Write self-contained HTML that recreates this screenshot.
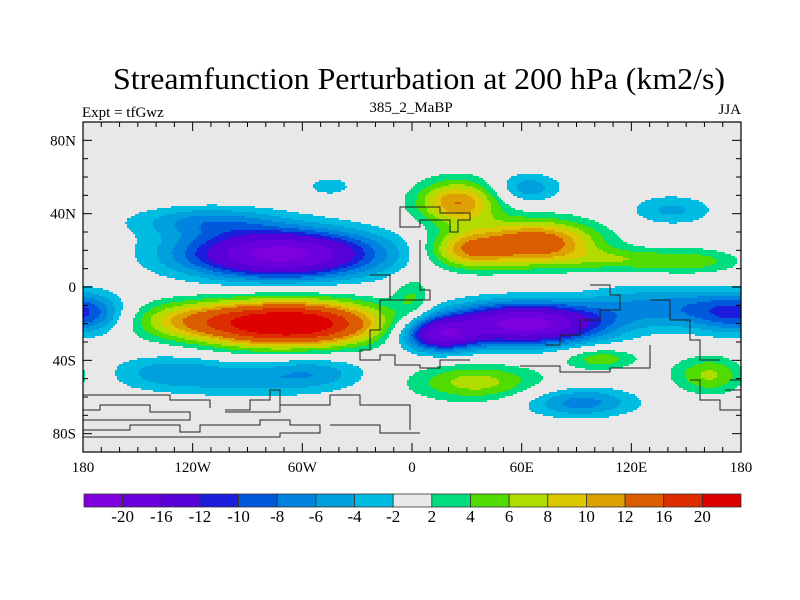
<!DOCTYPE html>
<html><head><meta charset="utf-8"><style>
html,body{margin:0;padding:0;background:#fff}
#wrap{position:relative;width:800px;height:600px;font-family:"Liberation Serif",serif}
#chart-svg{position:absolute;left:0;top:0}
</style></head><body>
<div id="wrap">
<svg id="chart-svg" width="800" height="600" xmlns="http://www.w3.org/2000/svg"><g id="field-layer"></g></svg>
</div>
<script>
// contour level boundaries and fill colors
var levels = [-20,-16,-12,-10,-8,-6,-4,-2,2,4,6,8,10,12,16,20];
var colors = ["#7e00dc","#6c00dc","#5800d8","#1c1cdc","#0058dc","#0084e0","#00a0dc","#00bce0","#e8e8e8","#00dc80","#50dc00","#b0dc00","#dcc800","#dca000","#dc5c00","#dc2c00","#dc0000"];
// anomaly centres
var blobLon = [-72,-112,-45,-68,-125,-130,-55,-176,165,125,62,15,25,68,30,150,110,63,142,35,103,163,92,0,-90];
var blobLat = [18,36,55,-20,-18,-47,-47,-15,-13,-10,-20,-26,46,24,20,14,15,54,42,-52,-39,-48,-63,-5,-52];
var blobAmp = [-22,-6,-3.5,26,6,-5.5,-5.5,-6,-7,-5,-22,-16,12,15,10,5.5,4,-5.5,-4.5,7,5.5,6.5,-7,4,-3];
var blobSx  = [52,40,12,48,32,35,30,20,28,32,42,20,22,32,22,30,25,18,22,35,20,20,30,10,30];
var blobSy  = [13,8,5,12,10,10,10,11,11,11,11,9,12,12,10,7,6,8,8,10,6,10,8,12,9];
var xTicks = [-180,-120,-60,0,60,120,180];
var xLabels = ["180","120W","60W","0","60E","120E","180"];
var yTicks = [80,40,0,-40,-80];
var yLabels = ["80N","40N","0","40S","80S"];

var PX0=83, PX1=741, PY0=122, PY1=452;
function xs(lon){ return PX0 + (lon+180)/360*(PX1-PX0); }
function ys(lat){ return PY0 + (90-lat)/180*(PY1-PY0); }

function field(lon, lat){
  var v=0;
  for(var i=0;i<blobLon.length;i++){
    var dl = lon-blobLon[i]; dl = ((dl+540)%360)-180;
    var dp = lat-blobLat[i];
    v += blobAmp[i]*Math.exp(-(dl/blobSx[i])*(dl/blobSx[i])-(dp/blobSy[i])*(dp/blobSy[i]));
  }
  return v;
}
function levelIndex(v){ var k=0; while(k<levels.length && v>=levels[k]) k++; return k; }

var NS="http://www.w3.org/2000/svg", svg=document.getElementById('chart-svg');
function mk(tag,attrs,parent){var e=document.createElementNS(NS,tag);for(var k in attrs)e.setAttribute(k,attrs[k]);(parent||svg).appendChild(e);return e;}

var layer=document.getElementById('field-layer');
var STEP=2, W=PX1-PX0, H=PY1-PY0;
for(var j=0;j<H;j+=STEP){
  var lat = 90-(j+STEP/2)/H*180;
  var runStart=0, runK=-1;
  for(var i=0;i<=W;i+=STEP){
    var k = -2;
    if(i<W){ var lon=-180+(i+STEP/2)/W*360; k=levelIndex(field(lon,lat)); }
    if(k!==runK){
      if(runK>=0){
        mk('rect',{x:PX0+runStart,y:PY0+j,width:i-runStart+0.6,height:STEP+0.6,fill:colors[runK]},layer);
      }
      runStart=i; runK=k;
    }
  }
}

// coastlines (simplified)
var coasts = [
 "M400,213 L400,207 L440,207 L440,213 L470,213 L470,220 L458,220 L458,232 L450,232 L450,220 L420,220 L420,227 L400,227 Z",
 "M370,275 L390,275 L390,300 L380,300 L380,330 L370,330 L370,350 L360,350 L360,360 L380,360 L380,355 L395,355 L395,365 L420,365 L420,368 L440,368 L440,360 L470,360",
 "M420,240 L420,290 L430,290 L430,300 L390,300",
 "M590,285 L610,285 L610,295 L620,295 L620,310 L600,310 L600,320 L580,320 L580,335 L560,335 L560,345 L545,345",
 "M650,300 L670,300 L670,320 L690,320 L690,340 L700,340 L700,360 L720,360",
 "M520,366 L560,366 L560,372 L610,372 L610,368 L650,368 L650,345",
 "M83,395 L170,395 L170,400 L210,400 L210,408",
 "M83,410 L100,410 L100,405 L150,405 L150,412 L190,412 L190,420 L83,420",
 "M225,410 L250,410 L250,400 L270,400 L270,390 L280,390 L280,412 L225,412",
 "M280,405 L330,405 L330,395 L360,395 L360,405 L410,405 L410,430",
 "M83,430 L130,430 L130,425 L180,425 L180,432 L200,432 L200,425 L260,425 L260,420 L290,420 L290,425 L320,425 L320,433 L280,433 L280,437 L83,437",
 "M330,425 L380,425 L380,433 L420,433",
 "M690,380 L700,380 L700,400 L720,400 L720,410 L741,410",
 "M730,380 L741,380 M725,390 L741,390"
];
coasts.forEach(function(d){
  var p=mk('path',{d:d,fill:'none',stroke:'#222','stroke-width':1});
  
  
});

var fr=mk('rect',{x:PX0,y:PY0,width:PX1-PX0,height:PY1-PY0,fill:'none',stroke:'#000','stroke-width':1.2});


for(var lon=-180;lon<=180;lon+=10){
  var x=xs(lon), L=(lon%60===0)?9:5;
  mk('line',{x1:x,y1:PY1,x2:x,y2:PY1-L,stroke:'#000'});
  mk('line',{x1:x,y1:PY0,x2:x,y2:PY0+L,stroke:'#000'});
}
for(var la=-90;la<=90;la+=10){
  var y=ys(la), L2=(la%40===0)?9:5;
  mk('line',{x1:PX0,y1:y,x2:PX0+L2,y2:y,stroke:'#000'});
  mk('line',{x1:PX1,y1:y,x2:PX1-L2,y2:y,stroke:'#000'});
}
xTicks.forEach(function(v,i){
  var t=mk('text',{x:xs(v),y:472,'text-anchor':'middle','font-size':15,'font-family':'Liberation Serif, serif'});
  t.textContent=xLabels[i];
  
  
});
yTicks.forEach(function(v,i){
  var t=mk('text',{x:76,y:ys(v)+5,'text-anchor':'end','font-size':15,'font-family':'Liberation Serif, serif'});
  t.textContent=yLabels[i];
  
  
});
var tt;
tt=mk('text',{x:419,y:89,'text-anchor':'middle','font-size':31,textLength:612,lengthAdjust:'spacingAndGlyphs','font-family':'Liberation Serif, serif'});
tt.textContent="Streamfunction Perturbation at 200 hPa (km2/s)";


tt=mk('text',{x:82,y:117,'font-size':15,'font-family':'Liberation Serif, serif'});
tt.textContent="Expt = tfGwz";


tt=mk('text',{x:411,y:112,'text-anchor':'middle','font-size':15,'font-family':'Liberation Serif, serif'});
tt.textContent="385_2_MaBP";


tt=mk('text',{x:741,y:114,'text-anchor':'end','font-size':15,'font-family':'Liberation Serif, serif'});
tt.textContent="JJA";


var CB0=84, CB1=741, bw=(CB1-CB0)/colors.length;
colors.forEach(function(c,i){
  var r=mk('rect',{x:CB0+i*bw,y:494,width:bw,height:13,fill:c,stroke:'#333','stroke-width':0.8});
  
  
});
levels.forEach(function(v,i){
  var t=mk('text',{x:CB0+(i+1)*bw,y:522,'text-anchor':'middle','font-size':17,'font-family':'Liberation Serif, serif'});
  t.textContent=String(v);
  
  
});
</script>
</body></html>
